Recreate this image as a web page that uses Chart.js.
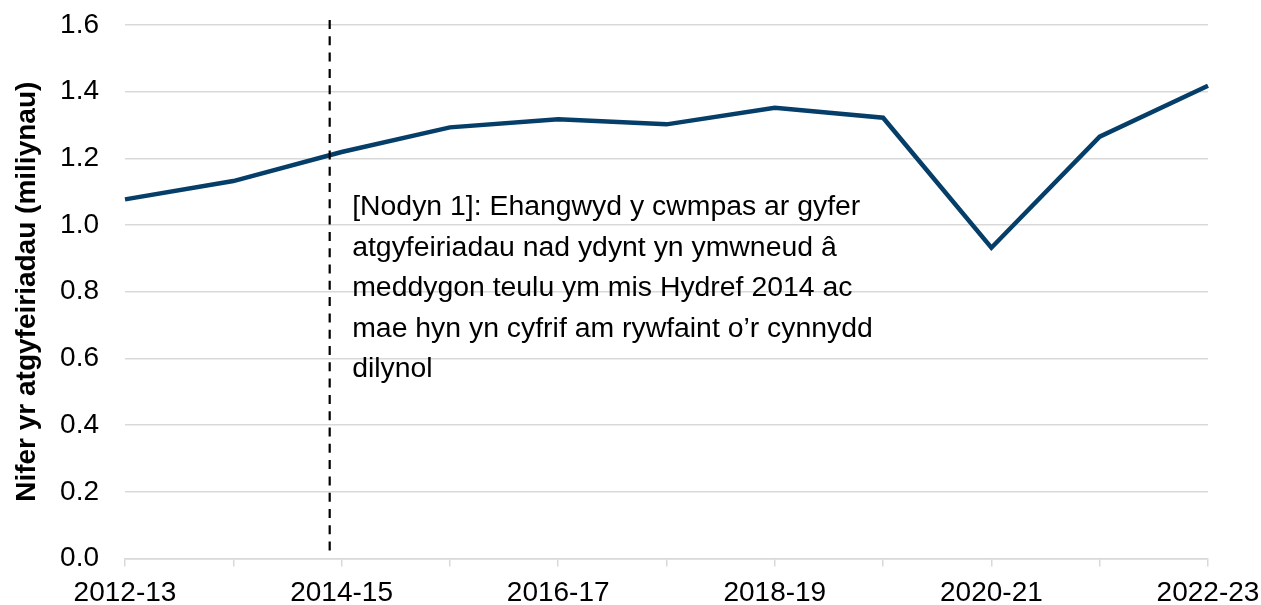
<!DOCTYPE html>
<html>
<head>
<meta charset="utf-8">
<script src="https://cdn.jsdelivr.net/npm/chart.js@4"></script>
<style>
html,body{margin:0;padding:0;background:#fff;}
#wrap{width:1261px;height:605px;position:relative;}
</style>
</head>
<body>
<div id="wrap"><canvas id="c"></canvas></div>
<script>
const categories = ['2012-13','2013-14','2014-15','2015-16','2016-17','2017-18','2018-19','2019-20','2020-21','2021-22','2022-23'];
const referrals = [1.077, 1.132, 1.219, 1.293, 1.317, 1.302, 1.352, 1.322, 0.932, 1.265, 1.418];
const yTicks = [0, 0.2, 0.4, 0.6, 0.8, 1.0, 1.2, 1.4, 1.6];
const yTitle = 'Nifer yr atgyfeiriadau (miliynau)';
const noteLines = [
  '[Nodyn 1]: Ehangwyd y cwmpas ar gyfer',
  'atgyfeiriadau nad ydynt yn ymwneud â',
  'meddygon teulu ym mis Hydref 2014 ac',
  'mae hyn yn cyfrif am rywfaint o\u2019r cynnydd',
  'dilynol'
];
const notePosition = 1.89; // category position of the dashed marker (Oct 2014)

const FONT = "'Liberation Sans', Arial, sans-serif";

const notePlugin = {
  id: 'notePlugin',
  afterDatasetsDraw(chart) {
    const ctx = chart.ctx;
    const x = chart.scales.x.getPixelForValue(notePosition);
    const area = chart.chartArea;
    ctx.save();
    ctx.strokeStyle = '#000';
    ctx.lineWidth = 2.2;
    ctx.setLineDash([9, 7.3]);
    ctx.beginPath();
    ctx.moveTo(x, area.top - 5);
    ctx.lineTo(x, area.bottom - 5);
    ctx.stroke();
    ctx.setLineDash([]);
    ctx.fillStyle = '#000';
    ctx.font = '28.4px ' + FONT;
    ctx.textAlign = 'left';
    ctx.textBaseline = 'alphabetic';
    noteLines.forEach((t, i) => {
      ctx.fillText(t, x + 22.5, area.top + 190 + i * 40.5);
    });
    ctx.restore();
  }
};

new Chart(document.getElementById('c'), {
  type: 'line',
  data: {
    labels: categories,
    datasets: [{
      data: referrals,
      borderColor: '#053f69',
      borderWidth: 4.5,
      pointRadius: 0,
      tension: 0,
      fill: false,
      borderJoinStyle: 'miter'
    }]
  },
  options: {
    responsive: true,
    maintainAspectRatio: false,
    animation: false,
    layout: { padding: { top: 25, right: 53, left: 0, bottom: 0 } },
    plugins: { legend: { display: false }, tooltip: { enabled: false } },
    scales: {
      x: {
        offset: false,
        grid: { drawOnChartArea: false, drawTicks: true, tickLength: 8, color: '#d9d9d9', lineWidth: 1.5 },
        border: { display: true, color: '#d9d9d9', width: 1.5 },
        ticks: {
          autoSkip: false, maxRotation: 0, padding: 10,
          color: '#000', font: { family: FONT, size: 28 },
          callback: (v, i) => (i % 2 === 0 ? categories[i] : '')
        },
        afterFit: s => { s.height = 46.5; s.paddingLeft = 0; s.paddingRight = 0; }
      },
      y: {
        min: 0, max: 1.6,
        afterBuildTicks: s => { s.ticks = yTicks.map(v => ({ value: v })); },
        grid: { color: '#d9d9d9', lineWidth: 1.5, drawTicks: false },
        border: { display: false },
        ticks: {
          padding: 26, color: '#000', font: { family: FONT, size: 28 },
          callback: v => v.toFixed(1)
        },
        title: {
          display: true, text: yTitle, color: '#000',
          font: { family: FONT, size: 28, weight: 'bold' },
          padding: { top: 10, bottom: 0 }
        },
        afterFit: s => { s.width = 125; s.paddingTop = 0; s.paddingBottom = 0; }
      }
    }
  },
  plugins: [notePlugin]
});
</script>
</body>
</html>
